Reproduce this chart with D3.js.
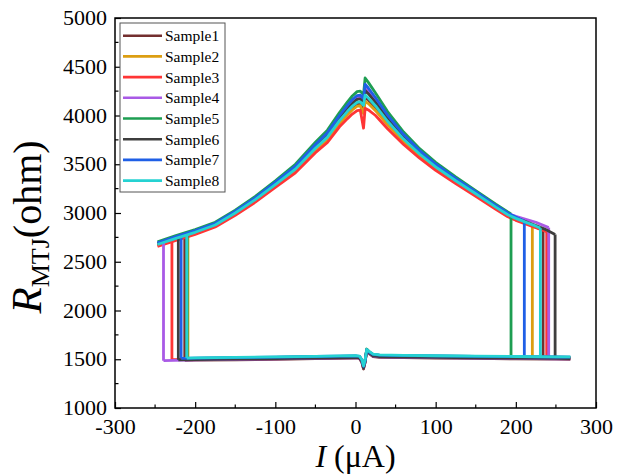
<!DOCTYPE html>
<html>
<head>
<meta charset="utf-8">
<script src="https://cdn.jsdelivr.net/npm/d3@7"></script>
<style>
  html, body { margin: 0; padding: 0; background: #ffffff; }
  svg { display: block; }
  text { font-family: "Liberation Serif", "Times New Roman", serif; fill: #000; }
</style>
</head>
<body>
<div id="chart"></div>
<script>
// ---- Data: R-I loops of eight MTJ samples ----
const sampleNames = ["Sample1", "Sample2", "Sample3", "Sample4", "Sample5", "Sample6", "Sample7", "Sample8"];
const sampleColors = ["#732f2f", "#dc9e12", "#ff3535", "#a95ae6", "#1e9e52", "#3e3e3e", "#1f5fe6", "#25d2d2"];

// High-resistance (AP) branch, current in µA
const hiCurrent = [-247, -225, -200, -175, -150, -125, -100, -75, -50, -35, -20, -10, -4, 2, 6, 10,
                   12, 16, 25, 40, 60, 80, 100, 125, 150, 175, 190];
const hiS1 = [2674, 2734, 2799, 2874, 2996, 3132, 3286, 3444, 3656, 3769, 3936, 4030, 4081, 4120, 4125, 4040,
              4185, 4159, 4080, 3927, 3749, 3597, 3467, 3326, 3192, 3056, 2979];
const hiS2 = [2667, 2727, 2792, 2867, 2989, 3125, 3277, 3432, 3642, 3752, 3917, 4008, 4057, 4095, 4100, 4020,
              4145, 4122, 4050, 3905, 3732, 3585, 3457, 3317, 3185, 3049, 2972];
const hiS3 = [2656, 2716, 2781, 2856, 2977, 3111, 3262, 3412, 3618, 3723, 3884, 3968, 4015, 4050, 4055, 3870,
              4073, 4057, 4000, 3864, 3703, 3562, 3438, 3302, 3171, 3037, 2961];
const hiS4 = [2690, 2750, 2815, 2890, 3014, 3152, 3309, 3473, 3692, 3811, 3985, 4087, 4143, 4185, 4190, 4155,
              4289, 4253, 4158, 3986, 3791, 3630, 3495, 3349, 3212, 3074, 2995];
const hiS5 = [2705, 2765, 2830, 2905, 3030, 3170, 3330, 3500, 3725, 3850, 4030, 4140, 4200, 4245, 4250, 4215,
              4385, 4340, 4230, 4040, 3830, 3660, 3520, 3370, 3230, 3090, 3010];
const hiS6 = [2685, 2745, 2810, 2885, 3008, 3146, 3302, 3464, 3681, 3798, 3970, 4070, 4124, 4165, 4170, 4135,
              4257, 4224, 4134, 3968, 3778, 3620, 3486, 3342, 3206, 3068, 2990];
const hiS7 = [2695, 2755, 2820, 2895, 3019, 3158, 3316, 3482, 3703, 3824, 4000, 4105, 4162, 4205, 4210, 4175,
              4321, 4282, 4182, 4004, 3804, 3640, 3503, 3356, 3218, 3079, 3000];
const hiS8 = [2677, 2737, 2802, 2877, 3000, 3137, 3291, 3450, 3664, 3778, 3947, 4043, 4095, 4135, 4140, 4105,
              4209, 4180, 4098, 3941, 3758, 3605, 3474, 3331, 3197, 3060, 2982];

// End of each AP branch up to its positive switching current
const hiTailS1 = [[200, 2940], [225, 2855], [234, 2826]];
const hiTailS2 = [[200, 2930], [220.6, 2877]];
const hiTailS3 = [[200, 2925], [225, 2850], [238.5, 2808]];
const hiTailS4 = [[200, 2965], [225, 2905], [241, 2850]];
const hiTailS5 = [[194, 2990]];
const hiTailS6 = [[200, 2950], [225, 2870], [236, 2835], [249, 2780]];
const hiTailS7 = [[200, 2960], [210.6, 2915]];
const hiTailS8 = [[200, 2945], [225, 2865], [230.6, 2845]];

// Low-resistance (P) branch
const loCurrent = [-200, -150, -100, -50, -20, 0, 5, 8, 10, 12, 14, 17, 22, 30, 60, 100, 150, 200, 250, 268];
const loS1 = [1490, 1495, 1500, 1506, 1510, 1513, 1508, 1465, 1400, 1470, 1585, 1558, 1528, 1520, 1516, 1512, 1508, 1504, 1501, 1500];
const loS2 = [1507, 1512, 1517, 1523, 1527, 1530, 1524, 1488, 1430, 1490, 1590, 1570, 1543, 1537, 1533, 1529, 1525, 1521, 1518, 1517];
const loS3 = [1499, 1504, 1509, 1515, 1519, 1522, 1516, 1475, 1410, 1475, 1600, 1572, 1538, 1529, 1525, 1521, 1517, 1513, 1510, 1509];
const loS4 = [1494, 1499, 1504, 1510, 1514, 1517, 1512, 1474, 1412, 1474, 1588, 1562, 1532, 1524, 1520, 1516, 1512, 1508, 1505, 1504];
const loS5 = [1510, 1515, 1520, 1526, 1530, 1533, 1527, 1490, 1425, 1488, 1605, 1578, 1548, 1540, 1536, 1532, 1528, 1524, 1521, 1520];
const loS6 = [1497, 1502, 1507, 1513, 1517, 1520, 1514, 1476, 1408, 1476, 1592, 1565, 1535, 1527, 1523, 1519, 1515, 1511, 1508, 1507];
const loS7 = [1512, 1517, 1522, 1528, 1532, 1535, 1530, 1492, 1428, 1490, 1598, 1575, 1550, 1542, 1538, 1534, 1530, 1526, 1523, 1522];
const loS8 = [1514, 1519, 1524, 1530, 1534, 1537, 1531, 1495, 1432, 1494, 1600, 1580, 1552, 1544, 1540, 1536, 1532, 1528, 1525, 1524];

// Switching currents (µA) and the resistance at each end of the jump
const switchNeg = [-213, -209, -229, -239.5, -210, -221, -217.5, -210.5];
const hiAtSwitchNeg = [2765, 2769, 2705, 2725, 2804, 2755, 2775, 2775];
const loAtSwitchNeg = [1488, 1505, 1496, 1485, 1508, 1495, 1510, 1512];
const switchPos = [234, 220.6, 238.5, 241, 194, 249, 210.6, 230.6];
const loAtSwitchPos = [1503, 1520, 1512, 1506, 1525, 1508, 1527, 1527];

const xTicks = [-300, -200, -100, 0, 100, 200, 300];
const yTicks = [1000, 1500, 2000, 2500, 3000, 3500, 4000, 4500, 5000];

const hiSets = [hiS1, hiS2, hiS3, hiS4, hiS5, hiS6, hiS7, hiS8];
const hiTails = [hiTailS1, hiTailS2, hiTailS3, hiTailS4, hiTailS5, hiTailS6, hiTailS7, hiTailS8];
const loSets = [loS1, loS2, loS3, loS4, loS5, loS6, loS7, loS8];

// ---- Layout ----
const W = 631, H = 474;
const plot = { left: 115, right: 596, top: 18, bottom: 408 };

const svg = d3.select("#chart").append("svg").attr("width", W).attr("height", H);

const x = d3.scaleLinear().domain([-300, 300]).range([plot.left, plot.right]);
const y = d3.scaleLinear().domain([1000, 5000]).range([plot.bottom, plot.top]);

const line = d3.line().x(d => x(d[0])).y(d => y(d[1]));

// ---- Curves ----
const gCurves = svg.append("g").attr("fill", "none")
  .attr("stroke-width", 2.8).attr("stroke-linejoin", "round").attr("stroke-linecap", "butt");

sampleNames.forEach((name, i) => {
  const hi = hiCurrent.map((c, k) => [c, hiSets[i][k]]).concat(hiTails[i]);
  const lo = [[switchNeg[i], loAtSwitchNeg[i]]].concat(loCurrent.map((c, k) => [c, loSets[i][k]]));
  const upJump = [[switchNeg[i], loAtSwitchNeg[i]], [switchNeg[i], hiAtSwitchNeg[i]]];
  const last = hi[hi.length - 1];
  const downJump = [last, [switchPos[i], loAtSwitchPos[i]]];
  const g = gCurves.append("g").attr("stroke", sampleColors[i]);
  g.append("path").attr("d", line(lo));
  g.append("path").attr("d", line(upJump));
  g.append("path").attr("d", line(hi));
  g.append("path").attr("d", line(downJump));
});

// ---- Axes (ticks pointing inward) ----
const fmt = d => String(d);
const xAxis = d3.axisBottom(x).tickValues(xTicks).tickSize(-6).tickPadding(10).tickFormat(fmt);
const yAxis = d3.axisLeft(y).tickValues(yTicks).tickSize(-6).tickPadding(8).tickFormat(fmt);

const gx = svg.append("g").attr("transform", `translate(0,${plot.bottom})`).call(xAxis);
const gy = svg.append("g").attr("transform", `translate(${plot.left},0)`).call(yAxis);

// minor ticks
const xMinor = d3.range(-250, 300, 100);
const yMinor = d3.range(1250, 5000, 500);
svg.append("g").selectAll("line").data(xMinor).join("line")
  .attr("x1", d => x(d)).attr("x2", d => x(d))
  .attr("y1", plot.bottom).attr("y2", plot.bottom - 3.5)
  .attr("stroke", "#000").attr("stroke-width", 1.2);
svg.append("g").selectAll("line").data(yMinor).join("line")
  .attr("x1", plot.left).attr("x2", plot.left + 3.5)
  .attr("y1", d => y(d)).attr("y2", d => y(d))
  .attr("stroke", "#000").attr("stroke-width", 1.2);

[gx, gy].forEach(g => {
  g.select(".domain").remove();
  g.selectAll(".tick line").attr("stroke", "#000").attr("stroke-width", 1.2);
  g.selectAll(".tick text").style("font-size", "22px").attr("fill", "#000");
});
gy.selectAll(".tick text").attr("dy", "0.3em");

// frame
svg.append("rect")
  .attr("x", plot.left).attr("y", plot.top)
  .attr("width", plot.right - plot.left).attr("height", plot.bottom - plot.top)
  .attr("fill", "none").attr("stroke", "#000").attr("stroke-width", 1.5);

// ---- Axis titles ----
const xt = svg.append("text").attr("x", (plot.left + plot.right) / 2).attr("y", 467)
  .attr("text-anchor", "middle").style("font-size", "32px");
xt.append("tspan").style("font-style", "italic").text("I");
xt.append("tspan").text(" (μA)");

const yt = svg.append("text")
  .attr("transform", `translate(41,${(plot.top + plot.bottom) / 2 + 14}) rotate(-90)`)
  .attr("text-anchor", "middle").style("font-size", "40px");
yt.append("tspan").style("font-style", "italic").style("font-size", "43px").text("R");
yt.append("tspan").attr("dy", 8).style("font-size", "26px").text("MTJ");
yt.append("tspan").attr("dy", -8).text("(ohm)");

// ---- Legend ----
const lg = svg.append("g");
lg.append("rect").attr("x", 120).attr("y", 23).attr("width", 105).attr("height", 169)
  .attr("fill", "#fff").attr("stroke", "#555").attr("stroke-width", 1);
sampleNames.forEach((name, i) => {
  const cy = 35.7 + i * 20.7;
  lg.append("line").attr("x1", 123).attr("x2", 162).attr("y1", cy).attr("y2", cy)
    .attr("stroke", sampleColors[i]).attr("stroke-width", 2.6);
  lg.append("text").attr("x", 165).attr("y", cy).attr("dy", "0.35em")
    .style("font-size", "15.5px").text(name);
});
</script>
</body>
</html>
